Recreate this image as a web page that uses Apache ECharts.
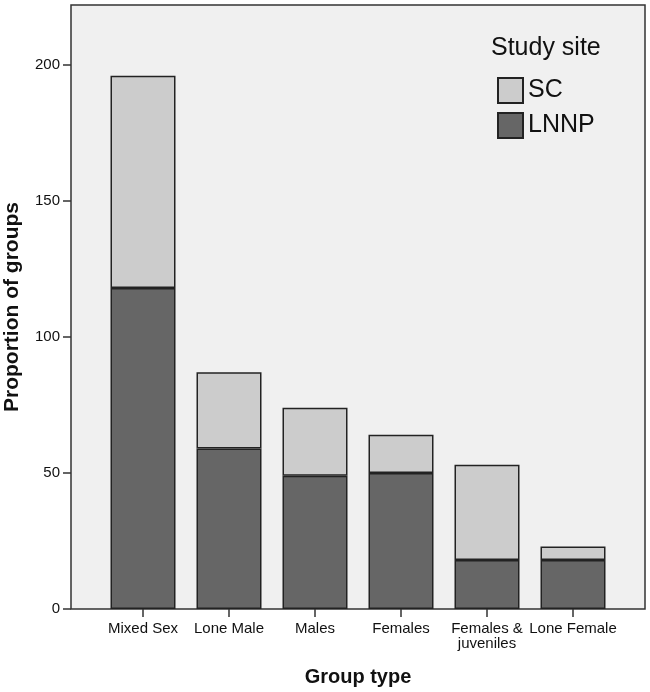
<!DOCTYPE html>
<html>
<head>
<meta charset="utf-8">
<script src="https://cdn.jsdelivr.net/npm/echarts@6/dist/echarts.min.js"></script>
<style>html,body{margin:0;padding:0;background:#fff;}#c{width:650px;height:692px;}</style>
</head>
<body>
<div id="c"></div>
<script>
const categories = ['Mixed Sex', 'Lone Male', 'Males', 'Females', 'Females &\njuveniles', 'Lone Female'];
const lnnpValues = [118, 59, 49, 50, 18, 18];
const scValues = [78, 28, 25, 14, 35, 5];
const yTicks = [0, 50, 100, 150, 200];
const yMax = 222;

const FONT = '"Liberation Sans", Arial, sans-serif';
const chart = echarts.init(document.getElementById('c'));
chart.setOption({
  animation: false,
  backgroundColor: '#ffffff',
  title: {
    text: 'Study site',
    left: 491, top: 36, padding: 0,
    textStyle: { fontFamily: FONT, fontSize: 25, fontWeight: 'normal', color: '#111' }
  },
  legend: {
    data: ['SC', 'LNNP'],
    orient: 'vertical',
    left: 497, top: 77, padding: 0,
    itemWidth: 25, itemHeight: 25, itemGap: 8,
    icon: 'rect',
    textStyle: { fontFamily: FONT, fontSize: 25, color: '#111', padding: [0, 0, 0, 0] }
  },
  grid: [
    { left: 71, top: 5, width: 574, height: 604, show: true, backgroundColor: '#f0f0f0', borderColor: '#333', borderWidth: 1.5, outerBoundsMode: 'none', containLabel: false },
    { left: 100, top: 5, width: 516, height: 604, show: false, outerBoundsMode: 'none', containLabel: false }
  ],
  xAxis: [
    { gridIndex: 0, type: 'value', show: false, min: 0, max: 1 },
    {
      gridIndex: 1, type: 'category', data: categories,
      boundaryGap: true,
      axisLine: { show: false },
      axisTick: { show: true, alignWithLabel: true, interval: 0, length: 8, lineStyle: { color: '#333', width: 1.5 } },
      axisLabel: { interval: 0, margin: 12, fontFamily: FONT, fontSize: 15, lineHeight: 15, color: '#111' },
      name: 'Group type', nameLocation: 'middle', nameGap: 58,
      nameTextStyle: { fontFamily: FONT, fontSize: 20, fontWeight: 'bold', color: '#111' }
    }
  ],
  yAxis: [
    {
      gridIndex: 0, type: 'value', min: 0, max: yMax,
      splitLine: { show: false },
      axisLine: { show: false },
      axisTick: { show: true, length: 8, customValues: yTicks, lineStyle: { color: '#333', width: 1.5 } },
      axisLabel: { margin: 11, customValues: yTicks, fontFamily: FONT, fontSize: 15, color: '#111' },
      name: 'Proportion of groups', nameLocation: 'middle', nameGap: 48, nameRotate: 90,
      nameTextStyle: { fontFamily: FONT, fontSize: 21, fontWeight: 'bold', color: '#111' }
    },
    { gridIndex: 1, type: 'value', min: 0, max: yMax, show: false }
  ],
  series: [
    {
      name: 'LNNP', type: 'bar', stack: 'total', xAxisIndex: 1, yAxisIndex: 1,
      data: lnnpValues, barWidth: 65,
      itemStyle: { color: '#666666', borderColor: '#222', borderWidth: 1.5 }
    },
    {
      name: 'SC', type: 'bar', stack: 'total', xAxisIndex: 1, yAxisIndex: 1,
      data: scValues, barWidth: 65,
      itemStyle: { color: '#cccccc', borderColor: '#222', borderWidth: 1.5 }
    }
  ]
});
</script>
</body>
</html>
